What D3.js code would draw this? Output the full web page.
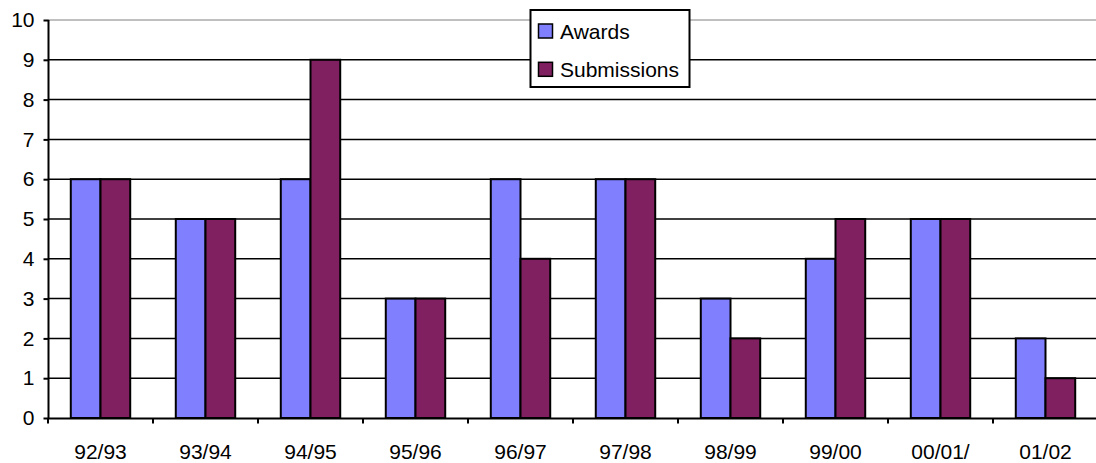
<!DOCTYPE html>
<html><head><meta charset="utf-8">
<script src="https://cdn.jsdelivr.net/npm/d3@7"></script>
<style>html,body{margin:0;padding:0;background:#fff;}svg{display:block;font-family:"Liberation Sans",Arial,sans-serif;}</style>
</head><body>
<svg id="c" width="1096" height="463"></svg>
<script>
const categories = ["92/93","93/94","94/95","95/96","96/97","97/98","98/99","99/00","00/01/","01/02"];
const awards =      [6,5,6,3,6,6,3,4,5,2];
const submissions = [6,5,9,3,4,6,2,5,5,1];
const seriesNames = ["Awards","Submissions"];
const seriesColors = ["#8080FF","#802060"];
const yTicks = [0,1,2,3,4,5,6,7,8,9,10];

const svg = d3.select("#c");
const L = 48, R = 1098, T = 20, B = 418;
const x = d3.scaleBand().domain(categories).range([L, R]).padding(0);
const y = d3.scaleLinear().domain([0, 10]).range([B, T]);
const bw = x.bandwidth();
const barW = bw * 0.283;
const off = (bw - 2 * barW) / 2;

// gridlines
svg.append("g").selectAll("line").data(yTicks.filter(d => d > 0)).join("line")
  .attr("x1", L).attr("x2", R)
  .attr("y1", d => y(d)).attr("y2", d => y(d))
  .attr("stroke", d => d === 10 ? "#808080" : "#000").attr("stroke-width", d => d === 10 ? 1 : 1.5);

// bars
const series = [awards, submissions];
series.forEach((vals, si) => {
  svg.append("g").selectAll("rect").data(vals).join("rect")
    .attr("x", (d, i) => x(categories[i]) + off + si * barW)
    .attr("y", d => y(d))
    .attr("width", barW)
    .attr("height", d => B - y(d))
    .attr("fill", seriesColors[si])
    .attr("stroke", "#000").attr("stroke-width", 2);
});

// y axis
const yAxis = d3.axisLeft(y).tickValues(yTicks).tickSize(5).tickPadding(9).tickFormat(d3.format("d"));
const yg = svg.append("g").attr("transform", `translate(${L + 0.5},0)`).call(yAxis);
yg.select(".domain").attr("stroke", "#000").attr("stroke-width", 2).attr("d", `M0,${T}V${B}`);
yg.selectAll(".tick line").attr("stroke", "#000").attr("stroke-width", 2);
yg.selectAll("text").attr("font-size", "21px").attr("fill", "#000");

// x axis
const xg = svg.append("g").attr("transform", `translate(0,${B + 0.5})`);
xg.append("line").attr("x1", L).attr("x2", R).attr("stroke", "#000").attr("stroke-width", 2);
xg.selectAll("line.tk").data(categories).join("line").attr("class", "tk")
  .attr("x1", d => x(d)).attr("x2", d => x(d)).attr("y1", 0).attr("y2", 5)
  .attr("stroke", "#000").attr("stroke-width", 2);
xg.selectAll("text").data(categories).join("text")
  .attr("x", d => x(d) + bw / 2).attr("y", 40)
  .attr("text-anchor", "middle").attr("font-size", "21px").attr("fill", "#000")
  .text(d => d);

// legend
const lg = svg.append("g");
lg.append("rect").attr("x", 530.5).attr("y", 10).attr("width", 159).attr("height", 77)
  .attr("fill", "#fff").attr("stroke", "#000").attr("stroke-width", 2);
seriesNames.forEach((n, i) => {
  const yy = 24 + i * 38.3;
  lg.append("rect").attr("x", 538.5).attr("y", yy).attr("width", 14).attr("height", 14)
    .attr("fill", seriesColors[i]).attr("stroke", "#000").attr("stroke-width", 1.5);
  lg.append("text").attr("x", 560).attr("y", yy + 14.5).attr("font-size", "21px").attr("fill", "#000").text(n);
});
</script>
</body></html>
